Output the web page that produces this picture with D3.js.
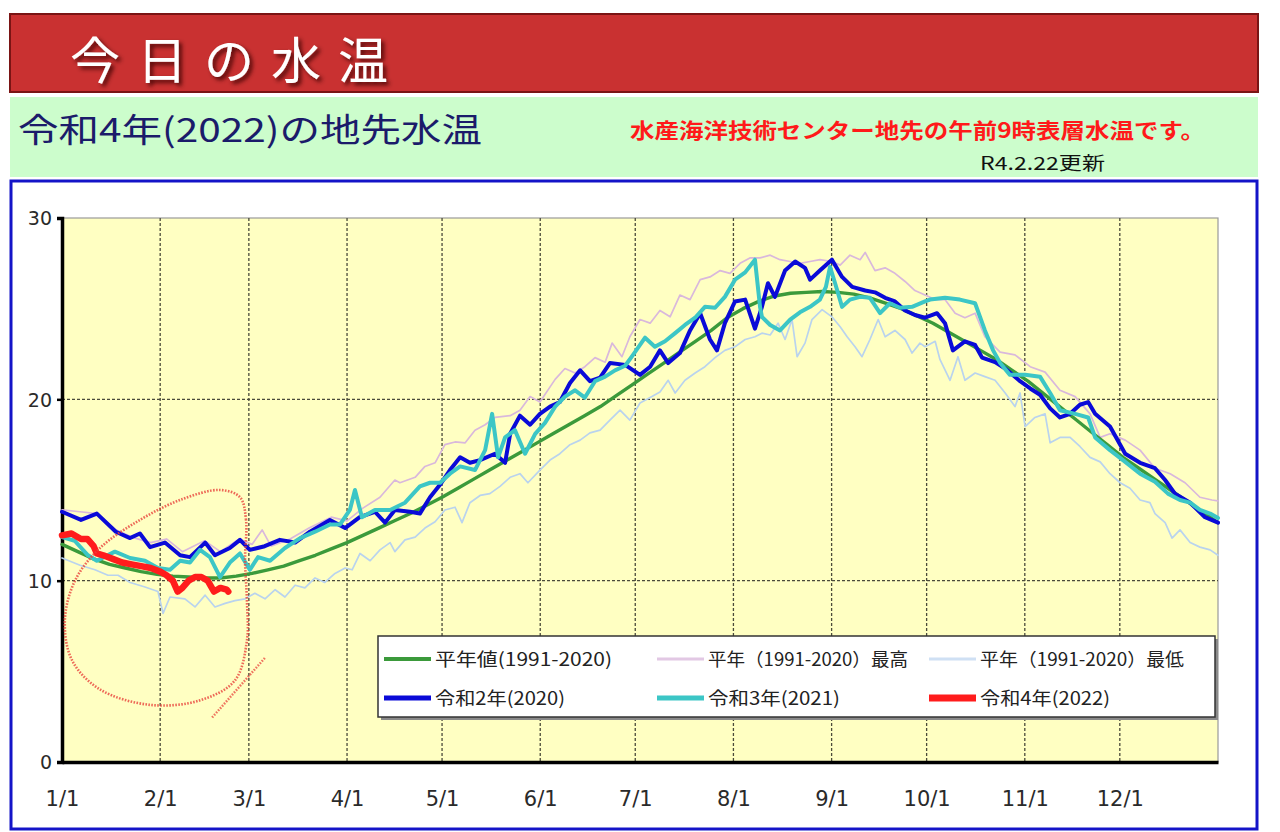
<!DOCTYPE html>
<html><head><meta charset="utf-8">
<script src="https://cdn.jsdelivr.net/npm/d3@7"></script>
<style>body{margin:0;background:#fff;} svg{display:block;}</style>
</head><body><svg id="c" width="1280" height="832"></svg>
<script>
// ---------------- DATA ----------------
const monthDays = [0,31,59,90,120,151,181,212,243,273,304,334];
const monthLabels = ["1/1","2/1","3/1","4/1","5/1","6/1","7/1","8/1","9/1","10/1","11/1","12/1"];
const yTicks = [0,10,20,30];

const titleText = "今日の水温";
const subtitleText = "令和4年(2022)の地先水温";
const noteText = "水産海洋技術センター地先の午前9時表層水温です。";
const updateText = "R4.2.22更新";

const legendLabels = ["平年値(1991-2020)","平年（1991-2020）最高","平年（1991-2020）最低","令和2年(2020)","令和3年(2021)","令和4年(2022)"];

// [day of year, water temperature]
const normalMean = [[0,12.0],[5,11.6],[10,11.2],[15,10.9],[20,10.7],[25,10.5],[30,10.35],[35,10.25],[40,10.2],[45,10.15],[50,10.15],[55,10.25],[60,10.4],[65,10.6],[70,10.8],[75,11.1],[80,11.4],[85,11.75],[90,12.1],[95,12.5],[100,12.9],[105,13.3],[110,13.7],[115,14.15],[120,14.6],[125,15.1],[130,15.6],[135,16.1],[140,16.6],[145,17.1],[150,17.6],[155,18.1],[160,18.6],[165,19.1],[170,19.6],[175,20.2],[180,20.8],[185,21.4],[190,22.0],[195,22.6],[200,23.2],[205,23.8],[210,24.5],[215,25.0],[220,25.4],[225,25.7],[230,25.85],[235,25.9],[240,25.95],[245,25.9],[250,25.8],[255,25.6],[260,25.3],[265,25.0],[270,24.6],[275,24.2],[280,23.7],[285,23.2],[290,22.7],[295,22.2],[300,21.6],[305,21.0],[310,20.3],[315,19.6],[320,18.9],[325,18.2],[330,17.5],[335,16.8],[340,16.2],[345,15.6],[350,15.0],[355,14.4],[360,13.8],[365,13.2]];

const normalMax = [[0,13.9],[5.7,13.8],[11,13.7],[17,12.8],[22,12.4],[28,12.1],[33,12.3],[38,11.6],[45,12.2],[50,11.6],[56,12.3],[60,12.0],[63.2,12.8],[66,11.9],[72,12.3],[78,12.9],[85,13.5],[90,13.3],[95,14.0],[100.4,14.6],[105.1,15.55],[106.7,15.4],[111.5,15.7],[114.6,16.3],[117.8,16.5],[120.9,17.5],[124.1,17.65],[127.3,17.6],[130.4,18.3],[133.6,18.6],[136.7,19.0],[141.5,19.1],[144.6,19.4],[147.8,20.15],[150.9,19.85],[155.7,21.1],[158.8,21.7],[162,21.45],[165.1,21.8],[168.3,22.3],[171.5,22.05],[173.7,23.1],[176.8,22.35],[179.3,23.45],[182.5,24.4],[185.7,24.2],[188.8,24.9],[192,24.55],[195.1,25.75],[198.3,25.5],[201.5,26.6],[204.6,26.75],[207.8,27.1],[210.9,26.95],[214.1,27.5],[217.2,27.8],[220.4,27.8],[223.6,27.95],[226.7,27.7],[229.9,27.6],[233,27.5],[236.2,27.6],[239.3,27.7],[243.1,27.6],[245.7,27.4],[248.8,27.95],[252,27.7],[253.6,28.1],[256.7,27.1],[259.9,27.25],[263,26.95],[266.2,26.5],[269.3,26.0],[272.5,25.75],[275.7,25.5],[278.8,25.5],[282,24.75],[285.1,24.5],[288.3,24.75],[291.4,23.45],[296.2,22.6],[300.9,22.45],[305.7,21.8],[310.4,21.5],[315.1,20.5],[319.9,20.15],[324.6,19.2],[327.8,17.9],[330.9,18.1],[335.7,17.75],[340.4,17.2],[345.1,16.2],[349.9,15.9],[354.6,15.4],[359.3,14.6],[363.1,14.45],[365,14.4]];

const normalMin = [[0,11.25],[5.7,10.85],[10.4,10.6],[14.5,10.3],[17.7,10.3],[21.5,9.9],[26.2,9.65],[30.3,9.4],[31.9,8.2],[34.1,9.1],[38.8,9.0],[42,8.55],[45.2,9.2],[48.3,8.55],[51.5,8.75],[54.6,8.9],[57.8,9.0],[60.9,9.3],[64.1,9.0],[67.3,9.5],[70.4,9.1],[73.6,9.75],[76.7,9.6],[79.9,10.15],[83,9.9],[86.2,10.4],[89.4,10.7],[91.6,10.6],[94.1,11.5],[97.3,11.1],[100.4,11.7],[103.6,12.1],[105.1,11.6],[108.3,12.25],[111.5,12.4],[114.6,12.9],[117.8,13.25],[120.9,13.9],[124.1,14.05],[126.3,13.2],[128.8,14.3],[132,14.7],[135.1,14.8],[138.3,15.2],[141.5,15.7],[144.6,15.9],[147.1,15.4],[150.9,16.1],[154.1,16.65],[157.2,17.0],[160.4,17.5],[163.6,17.75],[166.7,18.15],[169.9,18.3],[173,18.85],[176.2,19.4],[179.3,18.85],[182.5,19.8],[185.7,20.1],[188.8,20.4],[191.4,21.05],[193.6,20.35],[196.7,21.05],[199.9,21.45],[203,21.8],[206.2,22.3],[209.3,22.7],[212.5,22.9],[215.7,23.3],[218.8,23.45],[221,23.65],[223.6,23.55],[226.1,24.2],[228.3,23.3],[230.5,24.4],[232.1,22.35],[234.6,23.1],[236.8,24.4],[240,24.95],[243.1,24.55],[245.7,24.0],[247.9,23.45],[250.4,22.9],[252.6,22.35],[255.1,23.3],[257.7,24.4],[259.9,23.45],[263,23.8],[266.2,23.3],[268.4,22.55],[270.9,23.1],[272.5,22.9],[275.7,23.2],[277.2,22.2],[280.4,21.05],[282.9,22.35],[285.1,21.05],[288.3,21.45],[291.4,21.25],[294.6,21.05],[297.8,20.35],[300.9,19.6],[302.5,20.35],[304.1,18.5],[307.2,19.0],[310.4,19.2],[312,17.6],[315.1,17.9],[318.3,17.9],[321.4,17.4],[324.6,16.8],[327.8,16.55],[330.9,15.9],[334.1,15.4],[337.2,15.1],[340.4,14.45],[343.5,14.3],[345.1,13.7],[348.3,13.2],[350.5,12.35],[353,12.8],[356.2,12.1],[359.3,11.85],[362.5,11.7],[365,11.4]];

const reiwa2 = [[0,13.8],[6,13.35],[11,13.7],[17,12.7],[21.5,12.35],[24.6,12.6],[27.8,11.85],[32.5,12.1],[37.3,11.4],[40.4,11.3],[45.2,12.1],[48.3,11.4],[53,11.8],[56.2,12.25],[59.3,11.7],[64,11.9],[68.8,12.25],[73.6,12.1],[78.3,12.7],[84.6,13.35],[89.4,12.9],[94,13.5],[98.8,13.8],[102,13.2],[105.1,13.9],[109.9,13.8],[113,13.7],[116.2,14.6],[119.4,15.3],[122.5,16.1],[125.7,16.8],[128.8,16.5],[132,16.65],[136.7,17.0],[139.9,16.5],[141.5,18.1],[144.6,19.1],[147.8,18.6],[150.9,19.2],[154.1,19.6],[157.2,19.85],[160.4,20.9],[163.6,21.6],[166.7,21.0],[169.9,21.2],[173,22.0],[177.8,21.9],[182.5,21.35],[185.7,21.8],[188.8,22.7],[191.4,22.0],[195.1,22.55],[198.3,23.8],[201.5,24.75],[204.6,23.3],[206.8,22.7],[209.3,24.2],[212.5,25.4],[215.7,25.5],[218.8,23.9],[221,25.1],[222.9,26.4],[225.1,25.65],[228.3,27.1],[231.5,27.6],[234.6,27.25],[236.2,26.6],[239.3,27.1],[243.1,27.7],[246.3,26.75],[249.5,26.2],[253.6,26.0],[256.7,25.9],[259.9,25.6],[263,25.4],[266.2,24.9],[269.3,24.65],[272.5,24.5],[276.3,24.75],[278.8,24.2],[281.3,22.7],[285.1,23.2],[288.3,23.0],[290.5,22.3],[294.6,22.05],[297.8,21.7],[302.5,21.0],[305.7,20.6],[308.8,20.25],[312,19.5],[315.1,19.0],[318.3,19.2],[321.4,19.7],[324,19.85],[326.2,19.2],[330.9,18.5],[335.7,17.0],[340.4,16.5],[345.1,16.2],[348.3,15.55],[351.4,14.8],[356.2,14.3],[360.9,13.5],[365,13.2]];

const reiwa3 = [[0,12.4],[4,12.2],[8.2,11.4],[11,11.1],[16.7,11.6],[21.5,11.25],[26.2,11.1],[30.3,10.7],[34.1,10.6],[37.3,11.1],[40.4,11.0],[43.6,11.7],[46.7,11.3],[49.9,10.2],[53,11.0],[56.2,11.5],[59.3,10.6],[61.9,11.3],[65.7,11.1],[70.4,11.8],[75.2,12.35],[79.9,12.7],[84.6,13.1],[87.8,13.1],[90.9,13.9],[92.5,15.0],[94.7,13.5],[98.8,13.9],[103.6,13.9],[108.3,14.3],[113,15.2],[116.2,15.4],[119.4,15.4],[122.5,15.9],[125.7,16.3],[130.4,16.1],[133.6,17.2],[135.8,19.2],[137.7,16.8],[139.9,17.9],[143,18.3],[146.2,17.0],[149.4,18.1],[152.5,18.7],[155.7,19.6],[158.8,20.15],[162,20.5],[165.1,20.1],[168.3,21.0],[171.5,21.25],[174.6,21.6],[177.8,21.85],[180.3,22.45],[184.1,23.4],[187.2,22.9],[190.4,23.2],[193.6,23.65],[196.7,24.1],[199.9,24.5],[203,25.1],[206.2,25.05],[209.3,25.65],[212.5,26.6],[215.7,27.0],[218.8,27.7],[220.4,25.1],[221,24.55],[223.6,24.1],[226.7,23.8],[229.9,24.4],[233,24.8],[236.2,25.1],[239.3,25.5],[241.2,26.2],[242.5,27.3],[244.1,26.4],[246.3,25.1],[248.8,25.5],[252,25.65],[255.1,25.6],[258.3,24.75],[261.4,25.3],[264.6,25.05],[268.4,25.1],[272.5,25.4],[274.1,25.5],[278.8,25.6],[283.5,25.5],[288.3,25.3],[291.4,23.8],[294,22.7],[296.2,22.0],[299.3,21.35],[304.1,21.35],[308.8,21.25],[312,20.35],[315.1,19.4],[319.9,19.2],[324,19.0],[326.2,17.9],[330.9,17.2],[335.7,16.55],[340.4,15.9],[345.1,15.45],[349.2,14.8],[353,14.45],[356.2,14.3],[359.3,13.9],[362.5,13.7],[365,13.45]];

const reiwa4 = [[0,12.5],[3,12.6],[6,12.3],[8,12.3],[10,11.9],[11,11.5],[13,11.4],[16,11.2],[19,11.0],[22,10.9],[25,10.8],[28,10.7],[31,10.5],[33,10.3],[35,10.0],[36.5,9.4],[38,9.6],[40,10.0],[42,10.2],[44,10.2],[46,10.0],[48,9.4],[50,9.6],[52,9.5],[52.5,9.4]];

// hand-drawn annotation loop (day, temp)
const annotationLoop = [[57.8,11.1],[58.1,13.35],[56.2,14.6],[49.9,15.0],[37.3,14.45],[24.6,13.35],[12,11.8],[4.1,10.0],[0.9,7.8],[3.2,5.6],[12,4.0],[27.8,3.15],[43.6,3.4],[54.6,4.5],[58.4,6.7],[58.4,8.9]];
const annotationTail = [[47.4,2.45],[64.1,5.75]];

// ---------------- STYLE / LAYOUT ----------------
const plot = {left:62, right:1218, top:218, bottom:762};
const seriesStyle = [
  {data: normalMax,  color:"#d9b8dc", width:1.7},
  {data: normalMin,  color:"#b9d3ee", width:1.7},
  {data: normalMean, color:"#3b9a3b", width:3.4},
  {data: reiwa2,     color:"#0a0ad8", width:4},
  {data: reiwa3,     color:"#3cc6c6", width:4},
  {data: reiwa4,     color:"#ff1c1c", width:6.5}
];
const legendStyle = [
  {color:"#3b9a3b", width:4, col:0, row:0, tl:177},
  {color:"#e2c8e4", width:3, col:1, row:0, tl:200},
  {color:"#cfe0f4", width:3, col:2, row:0, tl:204},
  {color:"#0a0ad8", width:5, col:0, row:1, tl:130},
  {color:"#3cc6c6", width:5, col:1, row:1, tl:132},
  {color:"#ff1c1c", width:7, col:2, row:1, tl:130}
];

const svg = d3.select("#c");
const jp = "'Noto Sans CJK JP','Noto Sans CJK SC',sans-serif";
const latin = "'DejaVu Sans',Verdana,sans-serif";

const defs = svg.append("defs");
const f = defs.append("filter").attr("id","tshadow").attr("x","-10%").attr("y","-10%").attr("width","130%").attr("height","140%");
f.append("feDropShadow").attr("dx",3).attr("dy",3).attr("stdDeviation",2).attr("flood-color","#3a0000").attr("flood-opacity",0.85);

// title bar
svg.append("rect").attr("x",10).attr("y",14).attr("width",1248).attr("height",78)
  .attr("fill","#c93131").attr("stroke","#7a1414").attr("stroke-width",2);
svg.append("text").attr("x",70).attr("y",79).attr("fill","#fff")
  .attr("font-family",jp).attr("font-size",50).attr("font-weight",400)
  .attr("letter-spacing",17).attr("filter","url(#tshadow)").text(titleText);

// green strip
svg.append("rect").attr("x",10).attr("y",97).attr("width",1248).attr("height",80).attr("fill","#ccfdcc");
svg.append("text").attr("x",18).attr("y",142).attr("fill","#1b1b6a")
  .attr("font-family",jp).attr("font-size",33).attr("textLength",464).attr("lengthAdjust","spacingAndGlyphs")
  .text(subtitleText);
svg.append("text").attr("x",630).attr("y",138).attr("fill","#ff1a1a")
  .attr("font-family",jp).attr("font-size",21).attr("font-weight",700)
  .attr("textLength",575).attr("lengthAdjust","spacingAndGlyphs").text(noteText);
svg.append("text").attr("x",980).attr("y",170).attr("fill","#111")
  .attr("font-family",jp).attr("font-size",18)
  .attr("textLength",125).attr("lengthAdjust","spacingAndGlyphs").text(updateText);

// outer blue frame
svg.append("rect").attr("x",11).attr("y",181).attr("width",1246).attr("height",648)
  .attr("fill","#fff").attr("stroke","#1414c8").attr("stroke-width",3);

// scales
const x = d3.scaleLinear().domain([0,365]).range([plot.left, plot.right]);
const y = d3.scaleLinear().domain([0,30]).range([plot.bottom, plot.top]);

// plot background
svg.append("rect").attr("x",plot.left).attr("y",plot.top).attr("width",plot.right-plot.left)
  .attr("height",plot.bottom-plot.top).attr("fill","#ffffc2").attr("stroke","#9a9a9a").attr("stroke-width",1.2);

// grid
const g = svg.append("g");
g.selectAll(".vg").data(monthDays.slice(1)).join("line")
  .attr("x1",d=>x(d)).attr("x2",d=>x(d)).attr("y1",plot.top).attr("y2",plot.bottom)
  .attr("stroke","#4a4a3a").attr("stroke-width",1.3).attr("stroke-dasharray","3,2");
g.selectAll(".hg").data(yTicks.filter(v=>v>0 && v<30)).join("line")
  .attr("x1",plot.left).attr("x2",plot.right).attr("y1",d=>y(d)).attr("y2",d=>y(d))
  .attr("stroke","#4a4a3a").attr("stroke-width",1.3).attr("stroke-dasharray","3,2");

// axes
const yAxis = d3.axisLeft(y).tickValues(yTicks).tickSize(5).tickPadding(9).tickFormat(d3.format("d"));
const ya = svg.append("g").attr("transform",`translate(${plot.left},0)`).call(yAxis)
  .attr("font-size",null).attr("font-family",null);
ya.select(".domain").attr("stroke","#000").attr("stroke-width",3.5);
ya.selectAll(".tick line").attr("stroke","#000").attr("stroke-width",2.5);
ya.selectAll(".tick text").style("font-family",latin)
  .style("font-size","19px").attr("fill","#2a2a2a").attr("dy","0.36em").attr("x",-10);

const xAxis = d3.axisBottom(x).tickValues(monthDays).tickSize(0).tickPadding(29)
  .tickFormat((d,i)=>monthLabels[i]);
const xa = svg.append("g").attr("transform",`translate(0,${plot.bottom})`).call(xAxis)
  .attr("font-size",null).attr("font-family",null);
xa.select(".domain").attr("stroke","#000").attr("stroke-width",3.5);
xa.selectAll(".tick text").style("font-family",latin)
  .style("font-size","21px").attr("fill","#2a2a2a");

// series
const line = d3.line().x(d=>x(d[0])).y(d=>y(d[1])).curve(d3.curveLinear);
svg.append("g").selectAll("path").data(seriesStyle).join("path")
  .attr("d",s=>line(s.data)).attr("fill","none")
  .attr("stroke",s=>s.color).attr("stroke-width",s=>s.width)
  .attr("stroke-linejoin","round").attr("stroke-linecap","round");

// annotation
const loop = d3.line().x(d=>x(d[0])).y(d=>y(d[1])).curve(d3.curveCatmullRomClosed.alpha(0.5));
svg.append("path").attr("d",loop(annotationLoop)).attr("fill","none")
  .attr("stroke","#e8443c").attr("stroke-width",2.6).attr("stroke-dasharray","1.6,1.4").attr("opacity",0.8);
svg.append("path").attr("d",d3.line().x(d=>x(d[0])).y(d=>y(d[1]))(annotationTail)).attr("fill","none")
  .attr("stroke","#e8443c").attr("stroke-width",2.4).attr("stroke-dasharray","1.6,1.4").attr("opacity",0.75);

// legend
const lg = svg.append("g");
lg.append("rect").attr("x",381).attr("y",639).attr("width",837).attr("height",81).attr("fill","#8a8a8a");
lg.append("rect").attr("x",378).attr("y",636).attr("width",837).attr("height",81)
  .attr("fill","#fff").attr("stroke","#333").attr("stroke-width",1.5);
const colX = [384,657,929];
const rowY = [659,698];
const items = lg.selectAll("g.it").data(legendLabels).join("g")
  .attr("transform",(d,i)=>`translate(${colX[legendStyle[i].col]},${rowY[legendStyle[i].row]})`);
items.append("line").attr("x1",0).attr("x2",47).attr("y1",0).attr("y2",0)
  .attr("stroke",(d,i)=>legendStyle[i].color).attr("stroke-width",(d,i)=>legendStyle[i].width);
items.append("text").attr("x",51).attr("y",7).attr("font-family",jp).attr("font-size",18).attr("fill","#222")
  .attr("textLength",(d,i)=>legendStyle[i].tl).attr("lengthAdjust","spacingAndGlyphs").text(d=>d);
</script>
</body></html>
